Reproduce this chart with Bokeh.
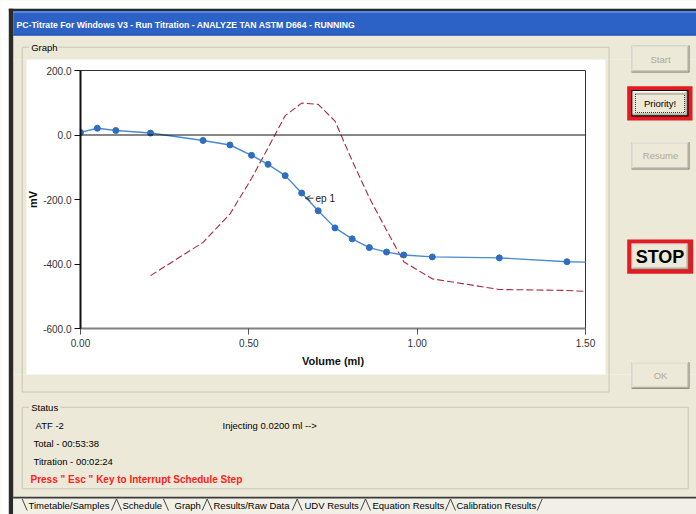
from bokeh.plotting import figure
from bokeh.models import (Range1d, FixedTicker, NumeralTickFormatter, Span, Label,
                          Arrow, OpenHead)
from bokeh.core.properties import value
from bokeh.embed import file_html
from bokeh.resources import INLINE

# ---------------- data ----------------
volume_ml = [0.0, 0.05, 0.105, 0.208, 0.364, 0.444, 0.508, 0.557, 0.608, 0.657,
             0.706, 0.756, 0.807, 0.858, 0.909, 0.96, 1.045, 1.244, 1.445, 1.645]
potential_mv = [8, 21, 14, 6, -17, -31, -63, -91, -126, -180,
                -235, -288, -322, -349, -363, -372, -378, -381, -393, -397]

deriv_volume_ml = [0.208, 0.364, 0.444, 0.508, 0.557, 0.608, 0.657, 0.706, 0.756,
                   0.807, 0.858, 0.909, 0.96, 1.045, 1.244, 1.445, 1.5]
deriv_mv = [-436, -333, -245, -135, -40, 60, 99, 95, 43,
            -80, -195, -295, -393, -446, -479, -482, -485]

endpoint_label = "ep 1"
endpoint_volume = [0.692, 0.668]   # arrow tail, arrow tip
endpoint_mv = -196

x_ticks = [0.0, 0.5, 1.0, 1.5]
y_ticks = [-600, -400, -200, 0, 200]

window_title = "PC-Titrate For Windows V3 - Run Titration -  ANALYZE TAN ASTM D664 - RUNNING"
status_lines = ["ATF -2", "Injecting 0.0200 ml -->", "Total  - 00:53:38", "Titration  - 00:02:24"]
status_warning = 'Press " Esc " Key to Interrupt Schedule Step'
button_labels = ["Start", "Priority!", "Resume", "STOP", "OK"]
tab_labels = ["Timetable/Samples", "Schedule", "Graph", "Results/Raw Data",
              "UDV Results", "Equation Results", "Calibration Results"]

# ---------------- layout / styling ----------------
BEIGE = "#ECE9D8"
UI_FONT = "Liberation Sans"
PW, PH = 696, 514                      # page size
FX0, FY0, FX1, FY1 = 80, 70, 585, 328  # plot frame
WX0, WY0, WX1, WY1 = 26, 59, 605, 374  # white graph panel

p = figure(width=PW, height=PH, output_backend="svg", toolbar_location=None, tools="",
           x_range=Range1d(0, 1.5), y_range=Range1d(-600, 200),
           min_border_left=FX0, min_border_top=FY0,
           min_border_right=PW - FX1, min_border_bottom=PH - FY1,
           x_axis_label="Volume (ml)", y_axis_label="mV")
p.extra_x_ranges = {"px": Range1d(FX0, FX1)}
p.extra_y_ranges = {"py": Range1d(FY1, FY0)}
p.border_fill_color = "white"
p.background_fill_color = "white"
p.outline_line_color = "#333333"
p.outline_line_width = 1
p.grid.visible = False

p.xaxis.ticker = FixedTicker(ticks=x_ticks)
p.xaxis.formatter = NumeralTickFormatter(format="0.00")
p.yaxis.ticker = FixedTicker(ticks=y_ticks)
p.yaxis.formatter = NumeralTickFormatter(format="0.0")
for ax in (p.xaxis, p.yaxis):
    ax.minor_tick_line_color = None
    ax.major_tick_out = 6
    ax.major_tick_in = 0
    ax.major_label_text_font = "Liberation Sans"
    ax.major_label_text_font_size = "10px"
    ax.major_label_text_color = "#333333"
    ax.axis_label_text_font = "Liberation Sans"
    ax.axis_label_text_font_size = "11px"
    ax.axis_label_text_font_style = "bold"
    ax.axis_label_text_color = "#111111"
    ax.axis_line_width = 2
p.xaxis.major_label_standoff = 4
p.xaxis.axis_label_standoff = 5
p.yaxis.major_label_standoff = 3
p.yaxis.axis_label_standoff = 1
p.xaxis.axis_line_color = "#808080"
p.xaxis.major_tick_line_color = "#555555"
p.yaxis.axis_line_color = "#111111"
p.yaxis.major_tick_line_color = "#111111"

p.add_layout(Span(location=0, dimension="width", line_color="#111111", line_width=1.2))

p.line(deriv_volume_ml, deriv_mv, line_color="#A8283F", line_dash="7 3", line_width=1.1)
p.line(volume_ml, potential_mv, line_color="#4A8ACF", line_width=1.4)
p.scatter(volume_ml, potential_mv, size=6, fill_color="#2F6DBE", line_color="#2F6DBE")

p.add_layout(Arrow(end=OpenHead(size=5, line_color="#333333", line_width=1),
                   x_start=endpoint_volume[0], y_start=endpoint_mv,
                   x_end=endpoint_volume[1], y_end=endpoint_mv,
                   line_color="#333333", line_width=1))
p.add_layout(Label(x=endpoint_volume[0] + 0.006, y=endpoint_mv, text=endpoint_label,
                   text_font="Liberation Sans", text_font_size="10px", text_color="#222222",
                   text_baseline="middle", text_align="left"))


# ---------------- window chrome (page pixel coordinates, drawn above the axes) ----------------
CH = dict(x_range_name="px", y_range_name="py", level="overlay")


def quad(l, r, t, b, fill=None, line=None, dash="solid", lw=1):
    p.quad(left=[l], right=[r], top=[t], bottom=[b],
           fill_color=fill, fill_alpha=1.0 if fill else 0.0,
           line_color=line, line_dash=dash, line_width=lw, **CH)


def txt(x, y, s, size="9.5px", color="#000000", bold=False, align="left", font=UI_FONT):
    p.text(x=[x], y=[y], text=[s], text_font=value(font), text_font_size=value(size),
           text_color=color, text_font_style="bold" if bold else "normal",
           text_align=align, text_baseline="middle", **CH)


def seg(x0, y0, x1, y1, color="#444444", lw=1):
    p.segment(x0=[x0], y0=[y0], x1=[x1], y1=[y1], line_color=color, line_width=lw, **CH)


def button(l, t, r, b, label, color, size="9.5px", bold=False):
    quad(l, r, t, b, fill="#716F64")
    quad(l, r - 1, t, b - 1, fill="#FFFFFF")
    quad(l + 1, r - 1, t + 1, b - 1, fill="#ACA899")
    quad(l + 1, r - 2, t + 1, b - 2, fill=BEIGE)
    txt((l + r) / 2, (t + b) / 2, label, size=size, color=color, bold=bold, align="center")


# beige window body around the white graph panel
quad(0, PW, 0, WY0, fill=BEIGE)
quad(0, PW, WY1, PH, fill=BEIGE)
quad(0, WX0, WY0, WY1, fill=BEIGE)
quad(WX1, PW, WY0, WY1, fill=BEIGE)

# screen margin and window border
quad(0, PW, 0, 8.3, fill="#FFFFFF")
quad(0, 8.3, 0, PH, fill="#FFFFFF")
quad(8.3, PW, 8.3, 10.5, fill="#2A2A2A")
quad(8.3, 12.7, 8.3, PH, fill="#2A2A2A")

# title bar
quad(12.7, PW, 10.5, 35, fill="#2C62C6")
quad(12.7, PW, 10.5, 12.5, fill="#5289E2")
quad(12.7, PW, 34, 35, fill="#1C4AA8")
txt(16, 24, window_title, size="8.7px", color="#FFFFFF", bold=True, font="Liberation Sans")

# group boxes
quad(21.7, 608.5, 46.7, 391.5, line="#C9C6B5")
quad(28.5, 58, 40, 53, fill=BEIGE)
txt(30.7, 46.7, "Graph")
quad(21.7, 687.7, 406.7, 488.3, line="#C9C6B5")
quad(28.5, 60, 400, 413, fill=BEIGE)
txt(30.7, 406.7, "Status")

# buttons
button(631, 45, 689, 72, button_labels[0], "#ACA899")
quad(626.7, 692, 85.7, 120, fill="#E31B23")
quad(631, 688, 89.5, 116, fill="#000000")
button(632, 90.5, 687, 115, button_labels[1], "#000000")
quad(635, 684, 93.5, 112, line="#333333", dash="1 1")
button(631, 141.7, 689, 169, button_labels[2], "#ACA899")
quad(626.7, 692.7, 239, 273.3, fill="#E31B23")
button(631, 243, 688, 269, button_labels[3], "#000000", size="18px", bold=True)
button(631, 361.7, 689, 388.3, button_labels[4], "#ACA899")

# status texts
txt(35, 425, status_lines[0])
txt(222, 425, status_lines[1])
txt(33, 442.7, status_lines[2])
txt(33, 460.7, status_lines[3])
txt(30, 479, status_warning, size="10px", color="#FF2020", bold=True)

# tab strip
quad(12.7, PW, 497.7, PH, fill="#F2F0E6")
quad(12.7, PW, 496.2, 497.9, fill="#3A3A3A")
for tx, lab in zip([28, 122, 174, 213, 304, 372, 456], tab_labels):
    txt(tx, 505, lab)
for xa in [111, 201.7, 291.7, 360, 445]:
    seg(xa, 510, xa + 5, 498.5)
    seg(xa + 5, 498.5, xa + 10, 510)
seg(21.7, 498.5, 26.7, 510)
seg(163, 498.5, 168, 510)
seg(536.7, 510, 541.7, 498.5)

open("out.html", "w").write(file_html(p, INLINE))
